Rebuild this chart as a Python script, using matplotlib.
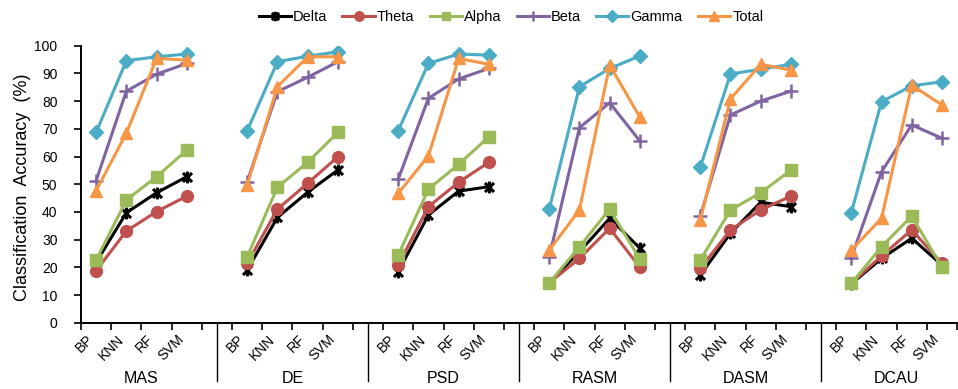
import numpy as np
import matplotlib
matplotlib.use("Agg")
import matplotlib.pyplot as plt
import matplotlib.transforms as mtransforms
from matplotlib.path import Path

plt.rcParams['font.family'] = ['Liberation Sans', 'DejaVu Sans']

groups = ["MAS", "DE", "PSD", "RASM", "DASM", "DCAU"]
classifiers = ["BP", "KNN", "RF", "SVM"]
bands = ["Delta", "Theta", "Alpha", "Beta", "Gamma", "Total"]

# accuracy (%) : 4 classifiers (BP, KNN, RF, SVM) for each feature group in order
delta = [21.8, 39.7, 46.9, 52.7,  19.0, 38.0, 47.1, 55.1,  18.4, 38.9, 47.5, 49.1,
         14.4, 25.6, 37.7, 26.9,  17.2, 32.3, 43.5, 41.9,  14.0, 23.2, 30.5, 20.8]
theta = [18.8, 33.1, 40.1, 45.7,  21.4, 41.0, 50.3, 59.9,  20.8, 41.9, 50.7, 57.9,
         14.4, 23.2, 34.1, 20.0,  19.6, 33.5, 40.7, 45.7,  14.2, 24.1, 33.5, 21.4]
alpha = [22.6, 44.3, 52.7, 62.3,  23.8, 48.9, 57.9, 68.7,  24.4, 48.2, 57.2, 67.1,
         14.4, 27.4, 41.0, 22.9,  22.6, 40.7, 46.9, 55.1,  14.2, 27.4, 38.5, 20.0]
beta = [51.3, 83.6, 89.7, 93.6,  50.9, 83.4, 88.6, 94.2,  51.8, 81.0, 88.0, 91.8,
        23.8, 70.4, 79.4, 65.6,  38.5, 75.0, 80.0, 83.6,  23.5, 54.5, 71.4, 66.6]
gamma = [68.7, 94.6, 96.0, 97.0,  69.3, 94.2, 96.2, 97.8,  69.3, 93.6, 97.0, 96.6,
         41.0, 85.2, 91.8, 96.3,  56.1, 89.8, 91.5, 93.3,  39.7, 79.8, 85.5, 87.0]
total = [47.7, 68.4, 95.4, 94.8,  49.7, 85.2, 96.0, 96.0,  46.7, 60.2, 95.4, 93.3,
         26.2, 40.7, 93.0, 74.2,  37.1, 80.8, 93.3, 91.2,  26.2, 37.7, 85.8, 78.6]

# excel-like star marker (x + vertical bar)
star = Path([(-1, -1), (1, 1), (-1, 1), (1, -1), (0, -1.3), (0, 1.3)],
            [Path.MOVETO, Path.LINETO, Path.MOVETO, Path.LINETO, Path.MOVETO, Path.LINETO])

styles = {
    "Delta": dict(color="black", marker=star, ms=8.5, mew=2.2),
    "Theta": dict(color="#C0504D", marker="o", ms=8.5),
    "Alpha": dict(color="#9BBB59", marker="s", ms=8),
    "Beta": dict(color="#8064A2", marker="+", ms=9.5, mew=1.8),
    "Gamma": dict(color="#4BACC6", marker="D", ms=7.2),
    "Total": dict(color="#F79646", marker="^", ms=9),
}
series = {"Delta": delta, "Theta": theta, "Alpha": alpha,
          "Beta": beta, "Gamma": gamma, "Total": total}

fig = plt.figure(figsize=(9.58, 3.89), dpi=100)
ax = fig.add_axes([0.0846, 0.1704, 0.9144, 0.7121])

nc = len(classifiers)
slot = nc + 1
for b in bands:
    vals = np.array(series[b])
    for g in range(len(groups)):
        x = g * slot + np.arange(nc) + 0.5
        ax.plot(x, vals[g * nc:(g + 1) * nc], lw=2.2,
                label=b if g == 0 else None, **styles[b])

ax.set_xlim(0, len(groups) * slot - 1)
ax.set_ylim(0, 100)
ax.set_yticks(np.arange(0, 101, 10))
ax.tick_params(axis='y', labelsize=10, length=5, width=1.2, pad=12)

ax.set_xticks(np.arange(0, len(groups) * slot), minor=False)
ax.set_xticklabels([])
ax.tick_params(axis='x', which='major', length=5, width=1.2)
centers = [g * slot + j + 0.5 for g in range(len(groups)) for j in range(nc)]
ax.set_xticks(centers, minor=True)
ax.set_xticklabels(classifiers * len(groups), minor=True, rotation=45,
                   ha='right', va='top', fontsize=10)
ax.tick_params(axis='x', which='minor', length=0, pad=7)

for s in ['top', 'right']:
    ax.spines[s].set_visible(False)
for s in ['left', 'bottom']:
    ax.spines[s].set_linewidth(1.4)

trans = mtransforms.blended_transform_factory(ax.transData, ax.transAxes)
for g, name in enumerate(groups):
    ax.text(g * slot + 2, -0.2, name, transform=trans, ha='center', va='center', fontsize=11.5)
    if g > 0:
        ax.plot([g * slot - 0.5] * 2, [0, -0.21], transform=trans, color='black',
                lw=1.0, clip_on=False)

ax.set_ylabel("Classification  Accuracy  (%)", fontsize=13)
ax.yaxis.set_label_coords(-0.0574, 0.488)

fig.legend(loc='center', bbox_to_anchor=(511 / 958, 0.956), ncol=6, frameon=False,
           fontsize=10.5, handlelength=2.2, handletextpad=0.15, columnspacing=1.05,
           markerscale=0.8)

fig.savefig("out.png", dpi=100)
